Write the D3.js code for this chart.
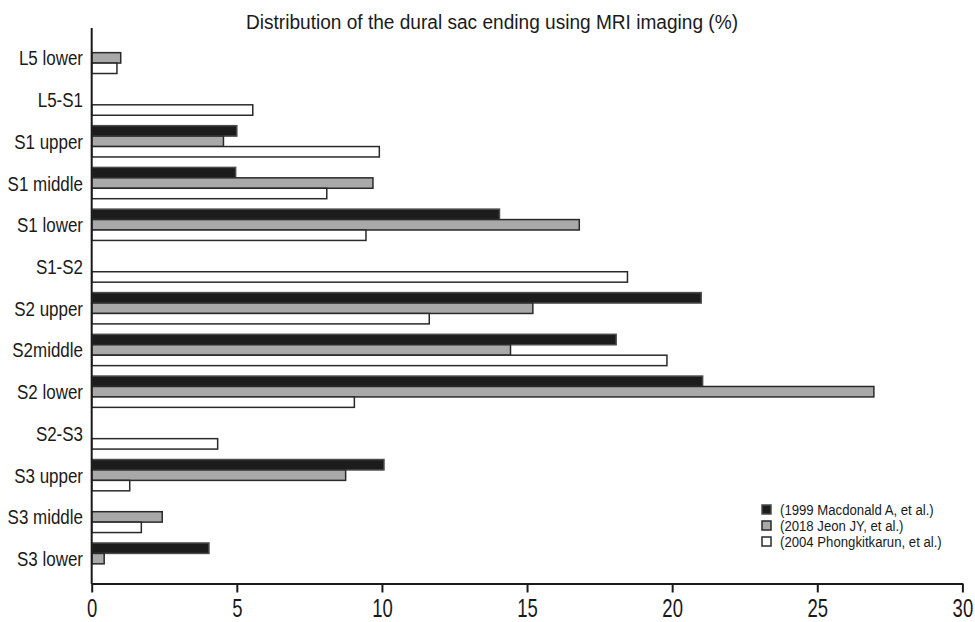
<!DOCTYPE html>
<html>
<head>
<meta charset="utf-8">
<script src="https://cdn.jsdelivr.net/npm/d3@7"></script>
<style>
  body { margin: 0; background: #fff; }
  svg text { font-family: "Liberation Sans", Arial, sans-serif; fill: #1a1a1a; }
</style>
</head>
<body>
<svg id="chart" width="975" height="622"></svg>
<script>
// levels, top to bottom
const levels = ["L5 lower", "L5-S1", "S1 upper", "S1 middle", "S1 lower", "S1-S2",
  "S2 upper", "S2middle", "S2 lower", "S2-S3", "S3 upper", "S3 middle", "S3 lower"];

const seriesNames = ["(1999 Macdonald A, et al.)", "(2018 Jeon JY, et al.)", "(2004 Phongkitkarun, et al.)"];

// percentages
const macdonald1999 = [0, 0, 5.0, 4.96, 14.05, 0, 21.0, 18.07, 21.05, 0, 10.07, 0, 4.04];
const jeon2018 = [1.0, 0, 4.54, 9.69, 16.8, 0, 15.2, 14.43, 26.95, 0, 8.75, 2.43, 0.43];
const phong2004 = [0.87, 5.55, 9.91, 8.1, 9.45, 18.46, 11.63, 19.82, 9.05, 4.34, 1.31, 1.71, 0];

const xTicks = [0, 5, 10, 15, 20, 25, 30];

const fills = ["#1c1c1c", "#a9a9a9", "#ffffff"];
const strokes = ["#4a4a4a", "#2a2a2a", "#2a2a2a"];

let svg = d3.select("#chart");

let x = d3.scaleLinear().domain([0, 30]).range([91.7, 962.4]);
let y = d3.scaleBand().domain(levels).range([37, 579.5])
    .paddingInner(0.25).paddingOuter(0.125);
let sub = d3.scaleBand().domain([0, 1, 2]).range([0, y.bandwidth()]);

let rows = levels.map(function (lv, i) {
    return {level: lv, values: [macdonald1999[i], jeon2018[i], phong2004[i]]};
});

// bars
let groups = svg.append("g").selectAll("g")
    .data(rows)
    .enter().append("g")
    .attr("transform", function (d) { return "translate(0," + y(d.level) + ")"; });

groups.selectAll("rect")
    .data(function (d) {
        return d.values.map(function (v, k) { return {k: k, v: v}; })
            .filter(function (e) { return e.v > 0; });
    })
    .enter().append("rect")
    .attr("x", x(0))
    .attr("y", function (d) { return sub(d.k); })
    .attr("width", function (d) { return x(d.v) - x(0); })
    .attr("height", sub.bandwidth())
    .attr("fill", function (d) { return fills[d.k]; })
    .attr("stroke", function (d) { return strokes[d.k]; })
    .attr("stroke-width", 1.5);

// x axis
let xAxis = svg.append("g")
    .attr("transform", "translate(0,583.5)")
    .call(d3.axisBottom(x).tickValues(xTicks).tickSize(9).tickSizeOuter(0).tickPadding(7));
xAxis.select(".domain").attr("stroke", "#1a1a1a").attr("stroke-width", 2);
xAxis.selectAll(".tick line").attr("stroke", "#1a1a1a").attr("stroke-width", 2);
xAxis.selectAll(".tick text")
    .attr("font-size", 25)
    .attr("fill", "#1a1a1a")
    .attr("transform", "scale(0.74,1)");

// y axis line
svg.append("line")
    .attr("x1", x(0)).attr("x2", x(0))
    .attr("y1", 28).attr("y2", 584)
    .attr("stroke", "#1a1a1a").attr("stroke-width", 2);

// level labels
svg.append("g").selectAll("text")
    .data(levels)
    .enter().append("text")
    .attr("transform", function (d) {
        return "translate(83," + (y(d) + y.bandwidth() / 2 + 7.5) + ") scale(0.87,1)";
    })
    .attr("text-anchor", "end")
    .attr("font-size", 19.5)
    .text(function (d) { return d; });

// title
svg.append("text")
    .attr("x", 492)
    .attr("y", 29)
    .attr("text-anchor", "middle")
    .attr("font-size", 20)
    .attr("textLength", 492)
    .attr("lengthAdjust", "spacingAndGlyphs")
    .text("Distribution of the dural sac ending using MRI imaging (%)");

// legend
let legend = svg.append("g").attr("transform", "translate(762,505)");
let items = legend.selectAll("g")
    .data(seriesNames)
    .enter().append("g")
    .attr("transform", function (d, i) { return "translate(0," + (i * 16) + ")"; });

items.append("rect")
    .attr("width", 9).attr("height", 9)
    .attr("fill", function (d, i) { return fills[i]; })
    .attr("stroke", function (d, i) { return strokes[i]; })
    .attr("stroke-width", 1.5);

items.append("text")
    .attr("transform", "translate(18,9.5) scale(0.85,1)")
    .attr("font-size", 15.5)
    .text(function (d) { return d; });
</script>
</body>
</html>
